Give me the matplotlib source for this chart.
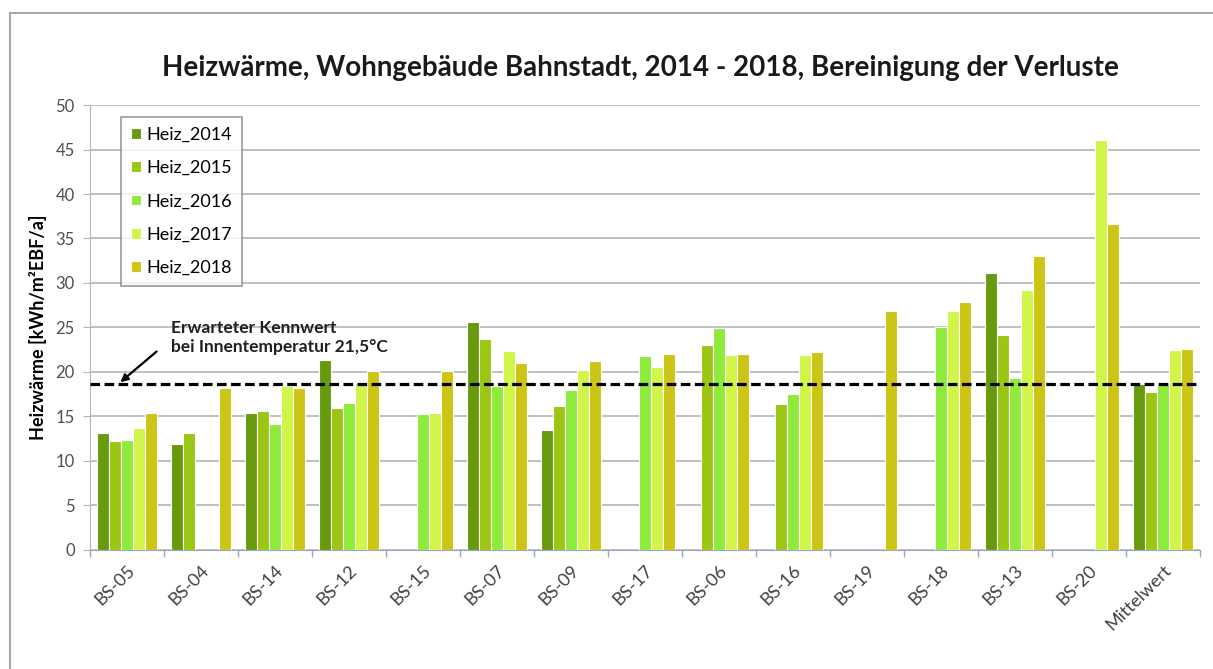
import numpy as np
import matplotlib
matplotlib.use("Agg")
import matplotlib.pyplot as plt
from matplotlib.lines import Line2D

plt.rcParams['font.family'] = ['Lato', 'DejaVu Sans']

# values (kWh/m²EBF/a), nan = no bar
categories = ['BS-05', 'BS-04', 'BS-14', 'BS-12', 'BS-15', 'BS-07', 'BS-09', 'BS-17',
              'BS-06', 'BS-16', 'BS-19', 'BS-18', 'BS-13', 'BS-20', 'Mittelwert']
nan = np.nan
heiz_2014 = [13.1, 11.9, 15.4, 21.4, nan, 25.6, 13.5, nan, nan, nan, nan, nan, 31.1, nan, 18.6]
heiz_2015 = [12.2, 13.1, 15.6, 15.9, nan, 23.7, 16.2, nan, 23.0, 16.4, nan, nan, 24.1, nan, 17.7]
heiz_2016 = [12.4, nan, 14.1, 16.5, 15.3, 18.4, 18.0, 21.8, 24.9, 17.5, nan, 25.0, 19.3, nan, 18.6]
heiz_2017 = [13.7, nan, 18.4, 18.8, 15.4, 22.3, 20.2, 20.6, 21.9, 21.9, nan, 26.8, 29.2, 46.1, 22.5]
heiz_2018 = [15.4, 18.2, 18.2, 20.1, 20.1, 21.0, 21.2, 22.0, 22.0, 22.2, 26.8, 27.9, 33.0, 36.6, 22.6]
series = {'Heiz_2014': heiz_2014, 'Heiz_2015': heiz_2015, 'Heiz_2016': heiz_2016,
          'Heiz_2017': heiz_2017, 'Heiz_2018': heiz_2018}
colors = ['#679A0D', '#9BC614', '#8EEB3C', '#D2F54A', '#CDC516']
kennwert = 18.7

fig = plt.figure(figsize=(12.13, 6.69), dpi=100)
ax = fig.add_axes([0.0742, 0.178, 0.915, 0.665])

x = np.arange(len(categories))
step = 0.162
for i, (name, vals) in enumerate(series.items()):
    ax.bar(x + (i - 2) * step, vals, width=step, color=colors[i],
           edgecolor='white', linewidth=0.8, label=name, zorder=3)

ax.axhline(kennwert, color='black', linestyle=(0, (3, 1.4)), linewidth=2.3, zorder=4)

ax.set_xlim(-0.5, len(categories) - 0.5)
ax.set_ylim(0, 50)
ax.set_yticks(np.arange(0, 51, 5))
ax.yaxis.grid(True, color='#b5b5b5', linewidth=1.2, zorder=0)
ax.set_axisbelow(True)

ax.set_xticks(x)
ax.set_xticklabels(categories, rotation=45, ha='right', va='top', rotation_mode='anchor')
ax.set_xticks(np.arange(-0.5, len(categories)), minor=True)
ax.tick_params(axis='x', which='major', length=0, pad=9, labelsize=13, labelcolor='#404040')
ax.tick_params(axis='x', which='minor', length=5, color='#9aa6c4', width=1)
ax.tick_params(axis='y', length=5, color='#b5b5b5', labelsize=12, labelcolor='#505050', pad=6)

for s in ['top', 'right']:
    ax.spines[s].set_visible(False)
ax.spines['left'].set_color('#b5b5b5')
ax.spines['bottom'].set_color('#9aa6c4')

ax.set_ylabel('Heizwärme [kWh/m²EBF/a]', fontsize=13, fontweight='bold', labelpad=6)

leg = ax.legend(loc='upper left', bbox_to_anchor=(0.02, 0.993), fancybox=False,
                edgecolor='#808080', fontsize=13, labelspacing=0.95,
                handlelength=0.55, handleheight=0.55, handletextpad=0.3, borderpad=0.55)
leg.get_frame().set_linewidth(1.2)
leg.set_zorder(5)

ax.annotate('', xy=(-0.09, kennwert + 0.15), xytext=(0.4, 22.3),
            arrowprops=dict(arrowstyle='-|>', color='black', lw=1.6, shrinkA=0, shrinkB=0,
                            mutation_scale=11))
ax.text(0.6, 21.9, 'Erwarteter Kennwert\nbei Innentemperatur 21,5°C', fontsize=12.5,
        fontweight='bold', ha='left', va='bottom', linespacing=1.25, color='#202020')

fig.text(0.528, 0.898, 'Heizwärme, Wohngebäude Bahnstadt, 2014 - 2018, Bereinigung der Verluste',
         ha='center', va='center', fontsize=20, fontweight='bold', color='#1a1a1a')

# outer chart frame (top and left edges are visible in the reference)
fig.add_artist(Line2D([0.0082, 1.0], [0.980, 0.980], color='#a8a8a8', linewidth=1.5))
fig.add_artist(Line2D([0.0082, 0.0082], [0.0, 0.980], color='#a8a8a8', linewidth=1.5))

fig.savefig('out.png', dpi=100)
